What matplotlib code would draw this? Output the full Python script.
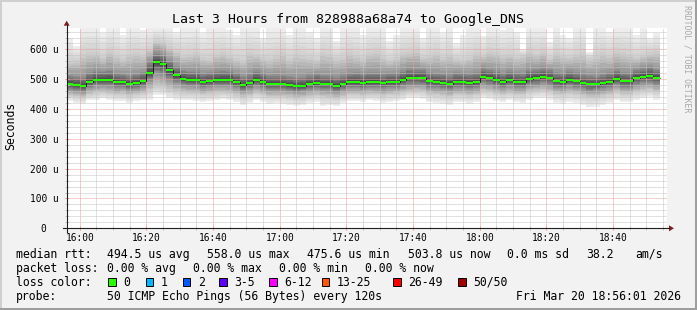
import numpy as np
import pandas as pd
import matplotlib
matplotlib.use("Agg")
import matplotlib.pyplot as plt
import matplotlib.dates as mdates
from matplotlib.patches import Rectangle, Polygon

# ---- data: one value per 120 s step, in microseconds ----
start = "2026-03-20 15:56:00"
t_from = "2026-03-20 15:56:01"
t_to = "2026-03-20 18:56:01"

median = [484, 480, 477, 491, 498, 498, 498, 491, 491, 484, 488, 494, 521, 558, 551, 531, 513, 501, 498, 498, 491, 494, 498,
          499, 499, 491, 480, 487, 498, 491, 484, 484, 484, 481, 476, 478, 484, 488, 484, 484, 478, 484, 491, 491, 488, 491,
          491, 487, 491, 491, 498, 504, 504, 504, 493, 491, 488, 484, 491, 491, 488, 491, 508, 504, 498, 491, 498,
          491, 491, 501, 504, 508, 504, 493, 491, 498, 493, 487, 483, 483, 487, 491, 501, 493, 493, 504, 508, 511, 504]

# smoke: sorted pings summarized by a few levels
smoke_max = [640, 610, 672, 672, 672, 655, 672, 672, 650, 672, 672, 665,
             672, 672, 672, 672, 660, 672, 672, 672, 655, 672, 672,
             672, 665, 650, 672, 672, 672, 640, 672, 672, 672, 650, 672, 672, 660, 640, 672, 672, 630, 672, 672, 672, 650, 672,
             672, 672, 630, 650, 672, 672, 672, 640, 672, 672, 655, 672, 620, 650, 672, 672, 645, 672, 672, 665, 672,
             660, 600, 672, 672, 672, 625, 672, 650, 640, 672, 672, 590, 672, 672, 660, 672, 672, 672, 650, 672, 640, 655]
smoke_hi2 = [560, 565, 585, 590, 590, 575, 595, 580, 570, 585, 590, 585,
             600, 630, 625, 610, 595, 580, 585, 590, 575, 570, 585,
             590, 580, 570, 565, 590, 585, 575, 570, 580, 590, 570, 585, 580, 575, 565, 590, 585, 570, 575, 590, 580, 570, 590,
             595, 580, 565, 575, 590, 595, 600, 575, 580, 590, 575, 585, 570, 565, 575, 590, 580, 595, 590, 580, 585,
             575, 580, 595, 585, 595, 570, 590, 580, 575, 585, 590, 570, 580, 590, 580, 595, 590, 585, 575, 580, 590, 595]
smoke_hi1 = [515, 512, 510, 525, 530, 528, 532, 522, 520, 515, 520, 525, 560, 590, 585, 565, 545, 532, 528, 530, 522, 525, 530,
             532, 530, 522, 512, 518, 530, 522, 515, 516, 515, 512, 508, 510, 516, 520, 515, 515, 510, 516, 522, 524, 520, 524,
             524, 518, 522, 522, 530, 538, 536, 535, 525, 522, 520, 516, 524, 522, 520, 524, 540, 536, 530, 522, 530,
             524, 522, 534, 536, 540, 535, 525, 522, 530, 525, 518, 515, 514, 518, 524, 534, 526, 524, 536, 540, 544, 536]
smoke_lo1 = [465, 462, 458, 470, 476, 478, 476, 470, 472, 466, 468, 474, 495, 520, 515, 500, 488, 480, 478, 476, 470, 474, 478,
             478, 477, 470, 462, 466, 476, 470, 464, 465, 464, 462, 458, 460, 465, 468, 464, 463, 458, 465, 470, 470, 468, 470,
             470, 466, 470, 471, 476, 482, 482, 481, 472, 470, 468, 464, 470, 470, 467, 470, 486, 482, 476, 470, 476,
             470, 470, 480, 482, 486, 482, 472, 470, 476, 472, 466, 462, 463, 466, 470, 480, 472, 472, 482, 486, 488, 482]
smoke_lo2 = [444, 440, 436, 448, 452, 454, 450, 446, 448, 442, 446, 450, 460, 472, 470, 462, 456, 452, 450, 450, 446, 448, 452,
             452, 450, 445, 438, 444, 450, 446, 440, 440, 440, 438, 434, 436, 440, 444, 440, 438, 434, 440, 446, 446, 444, 448,
             446, 442, 446, 448, 452, 456, 458, 456, 448, 446, 444, 440, 446, 446, 442, 446, 458, 456, 450, 446, 450,
             446, 446, 454, 458, 460, 456, 448, 446, 450, 448, 442, 438, 438, 442, 446, 454, 448, 448, 456, 460, 462, 456]
smoke_min = [428, 422, 418, 430, 432, 436, 430, 426, 428, 420, 426, 430, 432, 448, 446, 436, 432, 430, 432, 428, 424, 426, 432,
             434, 430, 424, 412, 420, 430, 424, 418, 420, 418, 414, 410, 412, 420, 424, 410, 412, 410, 420, 426, 428, 424, 430,
             426, 420, 424, 428, 432, 436, 438, 434, 424, 420, 418, 412, 424, 424, 418, 424, 436, 434, 428, 424, 430,
             424, 420, 430, 436, 438, 432, 420, 418, 424, 420, 412, 406, 408, 414, 420, 430, 424, 424, 432, 436, 440, 432]

y_ticks = [0, 100, 200, 300, 400, 500, 600]
y_labels = ["0  ", "100 u", "200 u", "300 u", "400 u", "500 u", "600 u"]

loss_labels = ["0", "1", "2", "3-5", "6-12", "13-25", "26-49", "50/50"]
loss_colors = ["#26ff00", "#00b8ff", "#0059ff", "#5e00ff", "#ff00ff", "#ff5500", "#ff0000", "#a10000"]

title = "Last 3 Hours from 828988a68a74 to Google_DNS"
rtt_line = ["494.5 us avg", "558.0 us max", "475.6 us min", "503.8 us now", "0.0 ms sd", "38.2", "am/s"]
loss_line = ["0.00 % avg", "0.00 % max", "0.00 % min", "0.00 % now"]
probe_text = "50 ICMP Echo Pings (56 Bytes) every 120s"
stamp = "Fri Mar 20 18:56:01 2026"

# ---- rrdtool look ----
BACK = "#f2f2f2"
GRID = "#c4c4c4"
MGRID = "#ec9c9c"
ARROW = (0.5, 0.12, 0.12)
AXIS = "#1f1f1f"
MONO = "DejaVu Sans Mono"

W, H = 697, 310
fig = plt.figure(figsize=(W / 100, H / 100), dpi=100, facecolor=BACK)
ax = fig.add_axes([66.5 / W, 1 - 228.3 / H, 600 / W, 200.3 / H])
ax.set_facecolor("white")

edges = mdates.date2num(pd.date_range(start, periods=len(median) + 1, freq="2min"))

# smoke shading: gray gets darker from the outer pings toward the median
upper = [np.array(v, float) for v in (smoke_max, smoke_hi2, smoke_hi1, median)]
lower = [np.array(v, float) for v in (smoke_min, smoke_lo2, smoke_lo1, median)]
shade = [0.93, 0.80, 0.56, 0.24]
z = 1.0
for j in range(3):
    for f in np.linspace(0, 1, 6, endpoint=False):
        hi = upper[j] + (upper[j + 1] - upper[j]) * f
        lo = lower[j] + (lower[j + 1] - lower[j]) * f
        g = shade[j] + (shade[j + 1] - shade[j]) * f
        ax.stairs(hi, edges, baseline=lo, fill=True, color=(g, g, g), lw=0, zorder=z)
        z += 0.01

ax.stairs(median, edges, baseline=None, color="#202020", lw=0.72, zorder=3)
ax.hlines(median, edges[:-1], edges[1:], colors=loss_colors[0], lw=1.5, zorder=4)

ax.set_xlim(mdates.date2num(pd.Timestamp(t_from)), mdates.date2num(pd.Timestamp(t_to)))
ax.set_ylim(0, 672)
ax.xaxis_date()
ax.xaxis.set_major_locator(mdates.MinuteLocator(byminute=[0, 20, 40]))
ax.xaxis.set_minor_locator(mdates.MinuteLocator(byminute=range(0, 60, 5)))
ax.xaxis.set_major_formatter(mdates.DateFormatter("%H:%M"))
ax.set_yticks(y_ticks)
ax.set_yticklabels(y_labels)
ax.set_yticks(range(0, 672, 20), minor=True)

ax.set_axisbelow(False)
ax.grid(which="minor", color=GRID, lw=0.72, ls=(0, (1, 1)), zorder=2)
ax.grid(which="major", color=MGRID, lw=0.72, ls=(0, (1, 1)), zorder=2.1)
for s in ax.spines.values():
    s.set_visible(False)
ax.tick_params(which="major", direction="inout", length=2.9, width=0.72, color=MGRID,
               labelsize=6.85, labelfontfamily=MONO)
ax.tick_params(which="minor", direction="inout", length=2.9, width=0.72, color=GRID)
ax.tick_params(axis="x", which="major", pad=1.6)
ax.tick_params(axis="y", which="major", pad=4.4)

# ---- overlay in pixel units for frame, axes, title and legend ----
ov = fig.add_axes([0, 0, 1, 1], zorder=5)
ov.set_xlim(0, W)
ov.set_ylim(H, 0)
ov.axis("off")
ov.patch.set_alpha(0)

ov.add_patch(Rectangle((0, 0), W, 2, color="#cfcfcf", lw=0))
ov.add_patch(Rectangle((0, 0), 2, H, color="#cfcfcf", lw=0))
ov.add_patch(Rectangle((W - 2, 0), 2, H, color="#9e9e9e", lw=0))
ov.add_patch(Rectangle((0, H - 2), W, 2, color="#9e9e9e", lw=0))

ov.plot([62.5, 669], [228.3, 228.3], color=AXIS, lw=0.8)
ov.plot([66.7, 66.7], [232.3, 25], color=AXIS, lw=0.8)
ov.add_patch(Polygon([(669, 225.3), (669, 231.3), (674, 228.3)], color=ARROW, lw=0))
ov.add_patch(Polygon([(63.7, 25.7), (69.7, 25.7), (66.7, 20.7)], color=ARROW, lw=0))

ov.text(347.5, 19.5, title, family=MONO, fontsize=9.5, ha="center", va="center")
ov.text(11, 126, "Seconds", family=MONO, fontsize=8.3, ha="center", va="center", rotation=90)
ov.text(687, 59, "RRDTOOL / TOBI OETIKER", family=MONO, fontsize=5.9, ha="center", va="center",
        rotation=270, color="#a8a8a8")

fs = 8.3
rows = [254.3, 268.3, 282.3, 296.3]
ov.text(16, rows[0], "median rtt:", family=MONO, fontsize=fs, va="center")
for x, s in zip([107.3, 207.3, 307.3, 407.7, 506.7, 586, 635], rtt_line):
    ov.text(x, rows[0], s, family=MONO, fontsize=fs, va="center")

ov.text(16, rows[1], "packet loss:", family=MONO, fontsize=fs, va="center")
for x, s in zip([107.3, 193.3, 279.3, 365.3], loss_line):
    ov.text(x, rows[1], s, family=MONO, fontsize=fs, va="center")

ov.text(16, rows[2], "loss color:", family=MONO, fontsize=fs, va="center")
box_x = [108.3, 145.7, 182.7, 219.3, 269.3, 321.7, 393.3, 458.3]
for bx, lab, col in zip(box_x, loss_labels, loss_colors):
    ov.add_patch(Rectangle((bx, rows[2] - 4), 7.5, 8, facecolor=col, edgecolor="black", lw=0.7))
    ov.text(bx + 15, rows[2], lab, family=MONO, fontsize=fs, va="center")

ov.text(16, rows[3], "probe:", family=MONO, fontsize=fs, va="center")
ov.text(107.3, rows[3], probe_text, family=MONO, fontsize=fs, va="center")
ov.text(681, rows[3], stamp, family=MONO, fontsize=fs, va="center", ha="right")

fig.savefig("out.png", dpi=100, facecolor=BACK)
